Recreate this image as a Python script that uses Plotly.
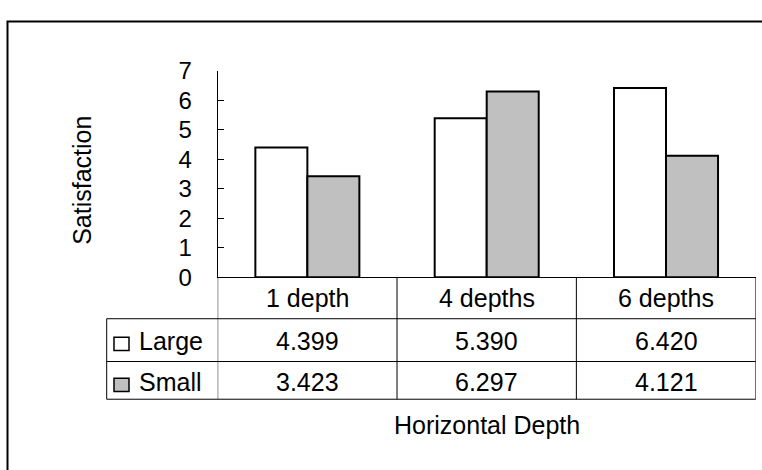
import plotly.graph_objects as go

# Data
categories = ["1 depth", "4 depths", "6 depths"]
series_names = ["Large", "Small"]
large_values = [4.399, 5.390, 6.420]
small_values = [3.423, 6.297, 4.121]
y_ticks = [0, 1, 2, 3, 4, 5, 6, 7]

W, H = 762, 470
FONT = "Liberation Sans, Arial, sans-serif"
FS = 25
fills = {"Large": "#FFFFFF", "Small": "#C0C0C0"}


def px(x):
    return x / W


def py(y):
    return 1 - y / H


# plot-area geometry (pixels)
X0, X1 = 217.7, 755.7
Y_TOP, Y_ZERO = 60.3, 279.3
TBL_LEFT = 106.7
ROW_LINES = [323.3, 368.7, 408.7]
HEADER_MID = 301.5
ROW_MID = {"Large": 347.0, "Small": 390.5}

fig = go.Figure()
for name, vals in (("Large", large_values), ("Small", small_values)):
    fig.add_trace(go.Bar(
        x=categories, y=vals, name=name,
        marker=dict(color=fills[name], line=dict(color="#000000", width=2)),
        showlegend=False,
    ))

shapes = []
# outer chart frame
shapes.append(dict(type="rect", xref="paper", yref="paper",
                   x0=px(7.5), x1=px(790), y0=py(8), y1=py(500),
                   line=dict(color="#000000", width=2), fillcolor="rgba(0,0,0,0)"))
# data table: horizontal rules
for yl in ROW_LINES:
    shapes.append(dict(type="line", xref="paper", yref="paper",
                       x0=px(TBL_LEFT), x1=px(X1), y0=py(yl), y1=py(yl),
                       line=dict(color="#000000", width=1)))
# row-label column left edge
shapes.append(dict(type="line", xref="paper", yref="paper",
                   x0=px(TBL_LEFT), x1=px(TBL_LEFT), y0=py(ROW_LINES[0]), y1=py(ROW_LINES[-1]),
                   line=dict(color="#000000", width=1)))
# column dividers at category boundaries
for k in range(len(categories) + 1):
    shapes.append(dict(type="line", xref="x", yref="paper",
                       x0=k - 0.5, x1=k - 0.5, y0=py(Y_ZERO), y1=py(ROW_LINES[-1]),
                       line=dict(color="#000000", width=1)))
# legend keys in the row labels
for name in series_names:
    c = ROW_MID[name] + 3
    shapes.append(dict(type="rect", xref="paper", yref="paper",
                       x0=px(114), x1=px(129), y0=py(c - 7), y1=py(c + 7),
                       line=dict(color="#000000", width=1.5), fillcolor=fills[name]))

annotations = []
tfont = dict(family=FONT, size=FS, color="#000000")
for cat in categories:
    annotations.append(dict(xref="x", yref="paper", x=cat, y=py(HEADER_MID),
                            text=cat, showarrow=False, font=tfont,
                            xanchor="center", yanchor="middle"))
for name, vals in (("Large", large_values), ("Small", small_values)):
    annotations.append(dict(xref="paper", yref="paper", x=px(137), y=py(ROW_MID[name]),
                            text=name, showarrow=False, font=tfont,
                            xanchor="left", yanchor="middle"))
    for cat, v in zip(categories, vals):
        annotations.append(dict(xref="x", yref="paper", x=cat, y=py(ROW_MID[name]),
                                text=f"{v:.3f}", showarrow=False, font=tfont,
                                xanchor="center", yanchor="middle"))
annotations.append(dict(xref="paper", yref="paper", x=px((X0 + X1) / 2), y=py(436),
                        text="Horizontal Depth", showarrow=False, font=tfont,
                        xanchor="center", yanchor="middle"))
annotations.append(dict(xref="paper", yref="paper", x=px(82), y=py(177),
                        text="Satisfaction", textangle=-90, showarrow=False, font=tfont,
                        xanchor="center", yanchor="middle"))

fig.update_layout(
    width=W, height=H,
    margin=dict(l=0, r=0, t=0, b=0),
    paper_bgcolor="#FFFFFF", plot_bgcolor="#FFFFFF",
    barmode="group", bargap=0.42, bargroupgap=0,
    shapes=shapes, annotations=annotations,
    font=dict(family=FONT, size=FS, color="#000000"),
    xaxis=dict(domain=[px(X0), px(X1)], range=[-0.5, 2.5],
               showticklabels=False, ticks="", showgrid=False, zeroline=False,
               showline=True, linecolor="#000000", linewidth=1),
    yaxis=dict(domain=[py(Y_ZERO), py(Y_TOP)], range=[0, 7],
               tickmode="array", tickvals=y_ticks, ticktext=[str(t) for t in y_ticks],
               ticks="inside", ticklen=6, tickcolor="#000000", tickwidth=1,
               ticklabelstandoff=20,
               tickfont=dict(family=FONT, size=24, color="#000000"),
               showgrid=False, zeroline=False,
               showline=True, linecolor="#000000", linewidth=1),
)

fig.write_html("out.html")
